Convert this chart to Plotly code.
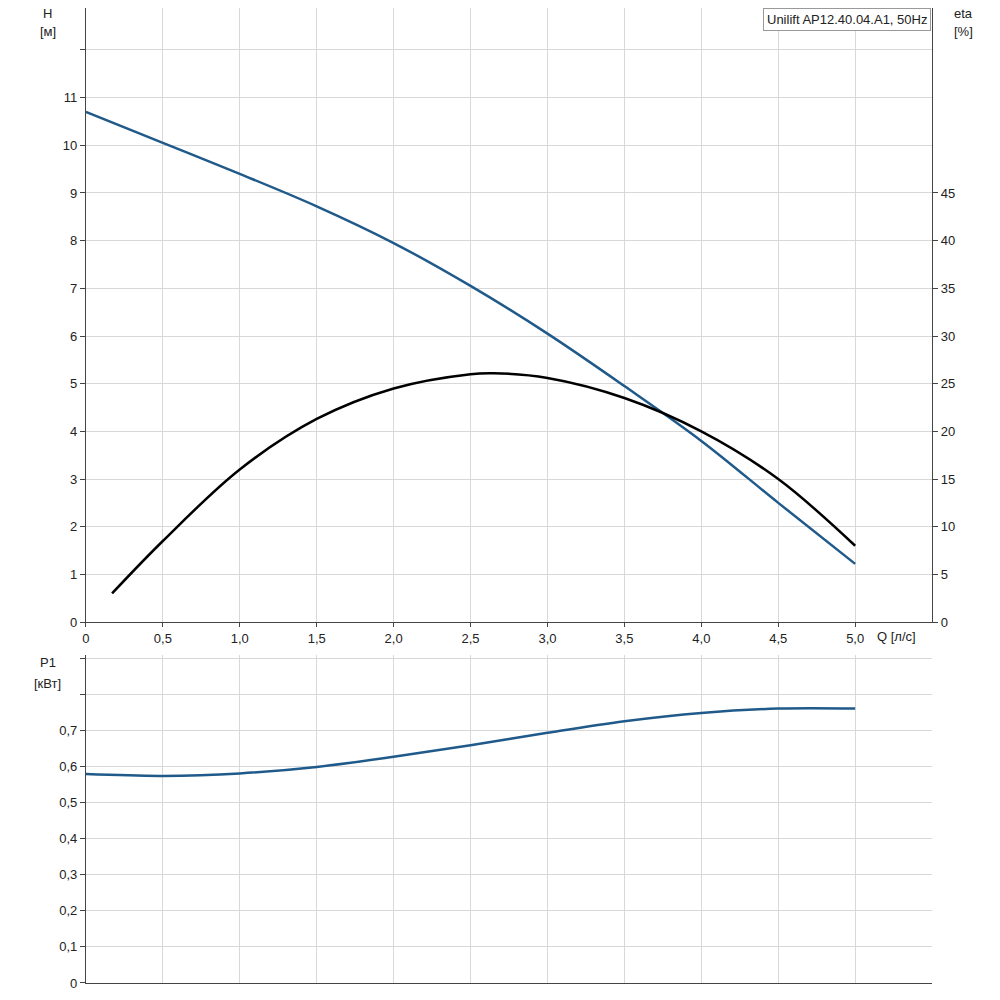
import plotly.graph_objects as go

q_h = [0, 0.5, 1.0, 1.5, 2.0, 2.5, 3.0, 3.5, 4.0, 4.5, 5.0]
h_vals = [10.7, 10.05, 9.4, 8.72, 7.95, 7.05, 6.05, 4.95, 3.8, 2.5, 1.22]
q_eta = [0.17, 0.5, 1.0, 1.5, 2.0, 2.5, 2.65, 3.0, 3.5, 4.0, 4.5, 5.0]
eta_vals = [3, 8.5, 16, 21.3, 24.5, 26.0, 26.1, 25.6, 23.5, 20.0, 15, 8]
q_p = [0, 0.5, 1.0, 1.5, 2.0, 2.5, 3.0, 3.5, 4.0, 4.5, 5.0]
p_vals = [0.58, 0.575, 0.582, 0.600, 0.628, 0.66, 0.695, 0.727, 0.75, 0.762, 0.762]

x_ticks = [0, 0.5, 1.0, 1.5, 2.0, 2.5, 3.0, 3.5, 4.0, 4.5, 5.0]
x_labels = ["0", "0,5", "1,0", "1,5", "2,0", "2,5", "3,0", "3,5", "4,0", "4,5", "5,0"]
h_ticks = list(range(0, 12))
eta_ticks = list(range(0, 50, 5))
p_ticks = [0, 0.1, 0.2, 0.3, 0.4, 0.5, 0.6, 0.7]
p_labels = ["0", "0,1", "0,2", "0,3", "0,4", "0,5", "0,6", "0,7"]

font = dict(family="Liberation Sans, Arial", size=13, color="#222")
grid = "#d8d8d8"
blue = "#1f5a8a"

fig = go.Figure()
fig.add_trace(go.Scatter(x=q_h, y=h_vals, mode="lines", line=dict(color=blue, width=2.5, shape="spline"), xaxis="x", yaxis="y"))
fig.add_trace(go.Scatter(x=q_eta, y=eta_vals, mode="lines", line=dict(color="black", width=2.5, shape="spline"), xaxis="x", yaxis="y2"))
fig.add_trace(go.Scatter(x=q_p, y=p_vals, mode="lines", line=dict(color=blue, width=2.5, shape="spline"), xaxis="x2", yaxis="y3"))

dom_x = [0.0742, 0.9238]
htop = 12.88
common_x = dict(range=[0, 5.5], domain=dom_x, tickvals=x_ticks, showgrid=True, gridcolor=grid, zeroline=False,
                showline=True, linecolor="#444", mirror=False, tickfont=font)
fig.update_layout(
    width=1000, height=1000, margin=dict(l=0, r=0, t=0, b=0), showlegend=False,
    plot_bgcolor="white", paper_bgcolor="white", font=font,
    xaxis=dict(**common_x, ticktext=x_labels, anchor="y", ticks="outside", ticklen=4),
    yaxis=dict(range=[0, htop], domain=[0.381, 1.0], tickvals=list(range(0, 13)),
               ticktext=[str(v) if v <= 11 else "" for v in range(0, 13)],
               showgrid=True, gridcolor=grid, zeroline=False, showline=True, linecolor="#444",
               ticks="outside", ticklen=5, tickfont=font),
    yaxis2=dict(range=[0, htop * 5], overlaying="y", side="right", anchor="x", tickvals=eta_ticks,
                showgrid=False, zeroline=False, showline=True, linecolor="#444",
                ticks="outside", ticklen=5, tickfont=font),
    xaxis2=dict(**common_x, ticktext=[""] * len(x_ticks), anchor="y3"),
    yaxis3=dict(range=[0, 0.91], domain=[0.0172, 0.3475], tickvals=p_ticks + [0.8, 0.9],
                ticktext=p_labels + ["", ""], showgrid=True, gridcolor=grid, zeroline=False,
                showline=True, linecolor="#444", ticks="outside", ticklen=5, tickfont=font),
)
ann = [
    dict(x=0.036, y=0.994, text="H", xanchor="center"),
    dict(x=0.036, y=0.976, text="[м]", xanchor="center"),
    dict(x=0.955, y=0.994, text="eta", xanchor="center"),
    dict(x=0.955, y=0.976, text="[%]", xanchor="center"),
    dict(x=0.036, y=0.340, text="P1", xanchor="center"),
    dict(x=0.036, y=0.319, text="[кВт]", xanchor="center"),
    dict(x=0.866, y=0.366, text="Q [л/с]", xanchor="left"),
]
for a in ann:
    fig.add_annotation(xref="paper", yref="paper", showarrow=False, yanchor="middle", font=font, **a)
fig.add_annotation(xref="paper", yref="paper", x=0.923, y=1.0, xanchor="right", yanchor="top",
                   text="Unilift AP12.40.04.A1, 50Hz", showarrow=False, font=font,
                   bordercolor="#999", borderwidth=1, bgcolor="white", borderpad=3)
fig.write_html("out.html")
